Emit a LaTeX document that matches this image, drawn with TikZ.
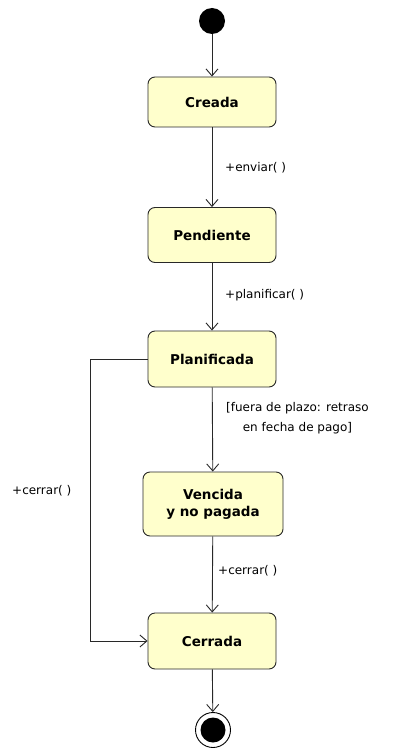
\documentclass[tikz,border=0pt]{standalone}
\usepackage{fontspec}
\setmainfont{DejaVu Sans}
\usetikzlibrary{arrows.meta}
\definecolor{stfill}{RGB}{255,255,204}
\definecolor{stline}{RGB}{40,40,40}
\tikzset{
  state/.style={draw=stline, fill=stfill, rounded corners=7pt, line width=0.9pt,
    minimum width=128pt, minimum height=52pt, align=center,
    font=\fontsize{13.5}{17}\selectfont\bfseries, inner sep=0pt},
  trans/.style={draw=stline, line width=0.9pt, -{Straight Barb[length=7pt,width=12pt]}},
  lbl/.style={font=\fontsize{12}{13}\selectfont, inner sep=0pt, align=center}
}
\begin{document}
\begin{tikzpicture}[x=1pt,y=-1pt]
\useasboundingbox (0,0) rectangle (396,749);
\node[circle, fill=black, minimum size=26pt, inner sep=0pt] (ini) at (212,21) {};
\node[state, minimum height=50pt] (creada) at (212,102) {Creada};
\node[state, minimum height=55pt] (pend) at (212,235) {Pendiente};
\node[state, minimum height=56pt] (plan) at (212,359) {Planificada};
\node[state, minimum width=140pt, minimum height=64pt] (venc) at (213,504) {Vencida\\y no pagada};
\node[state, minimum height=56pt] (cerr) at (212,641) {Cerrada};
\node[circle, draw=black, line width=0.9pt, minimum size=35pt, inner sep=0pt] (fin) at (213,730) {};
\node[circle, fill=black, minimum size=25pt, inner sep=0pt] at (fin) {};
\coordinate (lc) at (90,0);
\draw[trans] (ini) -- (creada);
\draw[trans] (creada) -- (pend);
\draw[trans] (pend) -- (plan);
\draw[trans] (plan) -- (venc);
\draw[trans] (venc) -- (cerr);
\draw[trans] (cerr) -- (fin);
\draw[trans] (plan.west) -| (lc |- cerr.west) -- (cerr.west);
\node[lbl, anchor=west] (l1) at (225,168) {+enviar( )};
\node[lbl, anchor=west] (l2) at (225,295) {+planificar( )};
\node[lbl, anchor=north west] (l3) at (226,402) {[fuera de plazo: retraso\\\rule{0pt}{17pt}en fecha de pago]};
\node[lbl, anchor=west] (l4) at (218,571) {+cerrar( )};
\node[lbl, anchor=west] (l5) at (12,491) {+cerrar( )};
\end{tikzpicture}
\end{document}
